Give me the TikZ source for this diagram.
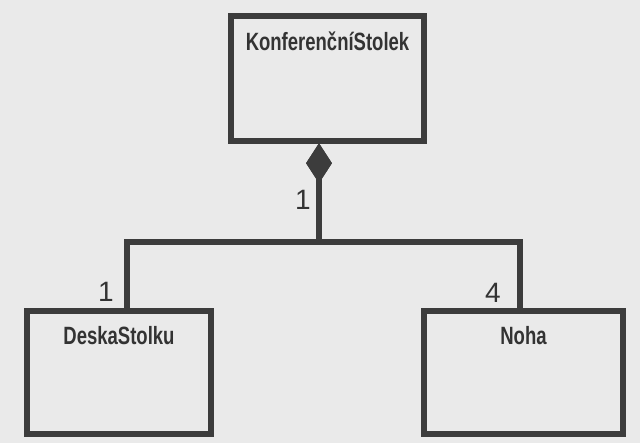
\documentclass[tikz,border=0pt]{standalone}
\usepackage{fontspec}
\setmainfont{Liberation Sans}
\newfontfamily\classfont[FakeStretch=0.74]{Liberation Sans Bold}
\usetikzlibrary{shapes.geometric}
\definecolor{ink}{HTML}{3C3C3C}
\definecolor{txt}{HTML}{333333}
\definecolor{paper}{HTML}{EAEAEA}
\tikzset{
  classbox/.style={draw=ink, line width=6pt, minimum width=#1, inner sep=0pt, line join=miter},
  classname/.style={anchor=base, text=txt, font=\classfont\fontsize{25}{28}\selectfont, inner sep=0pt},
  mult/.style={anchor=base, text=txt, font=\fontsize{28}{30}\selectfont, inner sep=0pt},
  link/.style={draw=ink, line width=6pt, line join=miter},
  compo/.style={shape=diamond, fill=ink, minimum width=26pt, minimum height=40pt, inner sep=0pt, anchor=north}
}
\begin{document}
\begin{tikzpicture}[x=1pt,y=1pt]
  \fill[paper] (0,0) rectangle (640,443);
  \useasboundingbox (0,0) rectangle (640,443);

  % classes
  \node[classbox=193pt, minimum height=125pt] (ks) at (327.5,364.5) {};
  \node[classbox=184pt, minimum height=123pt] (ds) at (119,70.5) {};
  \node[classbox=199pt, minimum height=123pt] (nh) at (523.5,70.5) {};

  \node[classname] (kst) at ([yshift=-38pt]ks.north) {KonferenčníStolek};
  \node[classname] (dst) at ([yshift=-37pt]ds.north) {DeskaStolku};
  \node[classname] (nht) at ([yshift=-37pt]nh.north) {Noha};

  % composition: filled diamond on the whole, then the branching line
  \coordinate (d0) at (319,300);
  \coordinate (jn) at (319,201);
  \node[compo] (dia) at (d0) {};
  \draw[link] (dia.center) -- (jn);
  \node[compo] at (d0) {};
  \draw[link] ([xshift=8pt]ds.north) |- (jn) -| ([xshift=-3.5pt]nh.north);

  % multiplicities
  \node[mult] (m0) at (303,233) {1};
  \node[mult] (m1) at (106,141) {1};
  \node[mult] (m2) at (493,140) {4};
\end{tikzpicture}
\end{document}
